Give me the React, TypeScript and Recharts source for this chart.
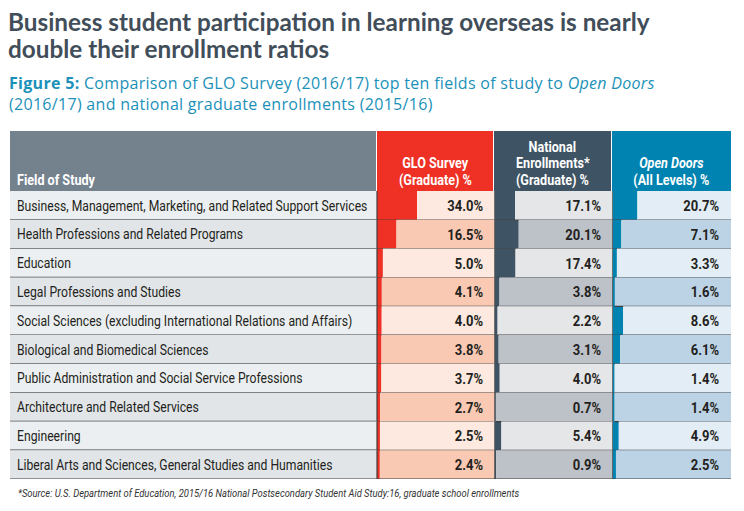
import { Bar, BarChart, Cell, LabelList, XAxis, YAxis } from "recharts";

const fields = [
  "Business, Management, Marketing, and Related Support Services",
  "Health Professions and Related Programs",
  "Education",
  "Legal Professions and Studies",
  "Social Sciences (excluding International Relations and Affairs)",
  "Biological and Biomedical Sciences",
  "Public Administration and Social Service Professions",
  "Architecture and Related Services",
  "Engineering",
  "Liberal Arts and Sciences, General Studies and Humanities",
];
const gloSurvey = [34.0, 16.5, 5.0, 4.1, 4.0, 3.8, 3.7, 2.7, 2.5, 2.4];
const nationalEnroll = [17.1, 20.1, 17.4, 3.8, 2.2, 3.1, 4.0, 0.7, 5.4, 0.9];
const openDoors = [20.7, 7.1, 3.3, 1.6, 8.6, 6.1, 1.4, 1.4, 4.9, 2.5];

const pct = (v: number) => `${v.toFixed(1)}%`;

const rows = fields.map((field, i) => ({
  field,
  glo: gloSurvey[i],
  gloRest: 100 - gloSurvey[i],
  gloLabel: pct(gloSurvey[i]),
  nat: nationalEnroll[i],
  natRest: 100 - nationalEnroll[i],
  natLabel: pct(nationalEnroll[i]),
  od: openDoors[i],
  odRest: 100 - openDoors[i],
  odLabel: pct(openDoors[i]),
}));

// no condensed face installed, so Roboto gets squeezed horizontally
const NARROW = "Roboto, 'Noto Sans', sans-serif";
const SQUEEZE = 0.84;
const TITLE_FONT = "Lato, 'Noto Sans', sans-serif";
const ROW_H = 28.8;
const LINE = "#3f3f3f";

const fieldBg = ["#eceff1", "#e2e5e8"];
const gloBg = ["#fde9df", "#f9c9b3"];
const natBg = ["#e5e6e8", "#bdc1c8"];
const odBg = ["#e2edf5", "#bcd3e6"];

function FieldTick(props: any) {
  const { y, payload, index } = props;
  return (
    <g>
      <rect x={10} y={y - ROW_H / 2} width={367} height={ROW_H} fill={fieldBg[index % 2]} />
      <line x1={10} x2={377} y1={y + ROW_H / 2} y2={y + ROW_H / 2} stroke={LINE} strokeWidth={1.2} />
      <line x1={377} x2={377} y1={y - ROW_H / 2} y2={y + ROW_H / 2} stroke={LINE} strokeWidth={1.2} />
      <text
        transform={`translate(17 ${y}) scale(${SQUEEZE} 1)`}
        dy="0.36em"
        fill="#231f20"
        fontSize={14.5}
        fontFamily={NARROW}
      >
        {payload.value}
      </text>
    </g>
  );
}

function Segment(props: any) {
  const { x, y, width, height, fill, rightBorder } = props;
  return (
    <g>
      <rect x={x} y={y} width={Math.max(width, 0)} height={height} fill={fill} />
      <line x1={x} x2={x + width} y1={y + height} y2={y + height} stroke={LINE} strokeWidth={1.2} />
      {rightBorder && (
        <line x1={x + width} x2={x + width} y1={y} y2={y + height} stroke={LINE} strokeWidth={1.4} />
      )}
    </g>
  );
}

function ValueLabel(props: any) {
  const { x, y, width, height, value } = props;
  return (
    <text
      transform={`translate(${x + width - 12} ${y + height / 2}) scale(${SQUEEZE} 1)`}
      dy="0.36em"
      textAnchor="end"
      fill="#231f20"
      fontSize={15.5}
      fontWeight={700}
      fontFamily={NARROW}
    >
      {value}
    </text>
  );
}

const squeezed = (origin: string, k = SQUEEZE): React.CSSProperties => ({
  display: "inline-block",
  whiteSpace: "nowrap",
  transform: `scaleX(${k})`,
  transformOrigin: origin,
});

const headerCell = (bg: string): React.CSSProperties => ({
  position: "absolute",
  top: 131,
  height: 60,
  background: bg,
  color: "#ffffff",
  fontFamily: NARROW,
  fontWeight: 700,
  fontSize: 15,
  lineHeight: "16.5px",
  display: "flex",
  flexDirection: "column",
  justifyContent: "flex-end",
  alignItems: "center",
  textAlign: "center",
  paddingBottom: 3,
  boxSizing: "border-box",
});

export default function App() {
  return (
    <div
      style={{
        position: "absolute",
        left: 0,
        top: 0,
        width: 744,
        height: 511,
        background: "#ffffff",
        overflow: "hidden",
      }}
    >
      <div
        style={{
          position: "absolute",
          left: 8,
          top: 8,
          fontFamily: TITLE_FONT,
          fontWeight: 700,
          fontSize: 24.3,
          lineHeight: "27px",
          color: "#414e5a",
        }}
      >
        Business student participation in learning overseas is nearly
        <br />
        double their enrollment ratios
      </div>
      <div
        style={{
          position: "absolute",
          left: 9,
          top: 73,
          fontFamily: "'Open Sans', Lato, sans-serif",
          fontSize: 16,
          letterSpacing: 0.3,
          lineHeight: "21px",
          color: "#1b91b9",
        }}
      >
        <b>Figure 5:</b> Comparison of GLO Survey (2016/17) top ten fields of study to <i>Open Doors</i>
        <br />
        (2016/17) and national graduate enrollments (2015/16)
      </div>

      <div style={{ ...headerCell("#74828e"), left: 10, width: 366, alignItems: "flex-start", paddingLeft: 7 }}>
        <span style={squeezed("left center")}>Field of Study</span>
      </div>
      <div style={{ ...headerCell("#ee3124"), left: 377, width: 116 }}>
        <span style={squeezed("center")}>GLO Survey</span>
        <span style={squeezed("center")}>(Graduate) %</span>
      </div>
      <div style={{ ...headerCell("#3e5363"), left: 494, width: 117 }}>
        <span style={squeezed("center")}>National</span>
        <span style={squeezed("center")}>Enrollments*</span>
        <span style={squeezed("center")}>(Graduate) %</span>
      </div>
      <div style={{ ...headerCell("#0083b0"), left: 612, width: 119 }}>
        <span style={{ ...squeezed("center"), fontStyle: "italic" }}>Open Doors</span>
        <span style={squeezed("center")}>(All Levels) %</span>
      </div>

      <div style={{ position: "absolute", left: 0, top: 191 }}>
        <BarChart
          width={744}
          height={288}
          data={rows}
          layout="vertical"
          barCategoryGap={0}
          margin={{ top: 0, right: 13, bottom: 0, left: 10 }}
        >
          <XAxis type="number" hide domain={[0, 300]} />
          <YAxis
            type="category"
            dataKey="field"
            width={367}
            axisLine={false}
            tickLine={false}
            interval={0}
            tick={<FieldTick />}
          />
          <Bar dataKey="glo" stackId="s" fill="#ee3124" isAnimationActive={false} shape={<Segment />} />
          <Bar dataKey="gloRest" stackId="s" isAnimationActive={false} shape={<Segment rightBorder />}>
            {rows.map((_, i) => (
              <Cell key={i} fill={gloBg[i % 2]} />
            ))}
            <LabelList dataKey="gloLabel" content={<ValueLabel />} />
          </Bar>
          <Bar dataKey="nat" stackId="s" fill="#3e5363" isAnimationActive={false} shape={<Segment />} />
          <Bar dataKey="natRest" stackId="s" isAnimationActive={false} shape={<Segment rightBorder />}>
            {rows.map((_, i) => (
              <Cell key={i} fill={natBg[i % 2]} />
            ))}
            <LabelList dataKey="natLabel" content={<ValueLabel />} />
          </Bar>
          <Bar dataKey="od" stackId="s" fill="#0083b0" isAnimationActive={false} shape={<Segment />} />
          <Bar dataKey="odRest" stackId="s" isAnimationActive={false} shape={<Segment />}>
            {rows.map((_, i) => (
              <Cell key={i} fill={odBg[i % 2]} />
            ))}
            <LabelList dataKey="odLabel" content={<ValueLabel />} />
          </Bar>
        </BarChart>
      </div>

      <div
        style={{
          position: "absolute",
          left: 18,
          top: 487,
          fontFamily: NARROW,
          fontStyle: "italic",
          fontSize: 10.8,
          color: "#333333",
          ...squeezed("left center", 0.87),
        }}
      >
        *Source: U.S. Department of Education, 2015/16 National Postsecondary Student Aid Study:16, graduate school enrollments
      </div>
    </div>
  );
}
